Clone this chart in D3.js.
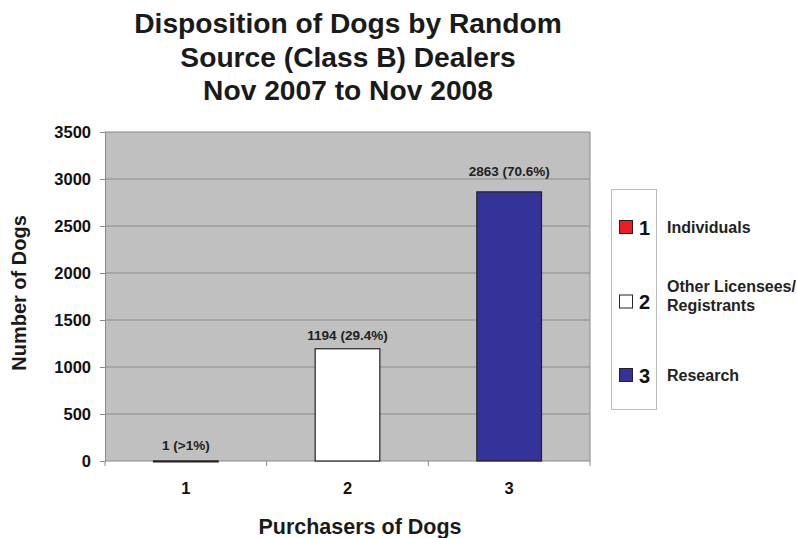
<!DOCTYPE html>
<html><head><meta charset="utf-8">
<script src="https://cdn.jsdelivr.net/npm/d3@7"></script>
<style>body{margin:0;background:#fff}svg{display:block;font-family:Arial,"Liberation Sans",sans-serif}</style>
</head><body><svg id="c" width="797" height="538"></svg>
<script>
const categories = ["1","2","3"];
const values = [1, 1194, 2863];
const valueLabels = ["1 (>1%)", "1194 (29.4%)", "2863 (70.6%)"];
const colors = ["#ee1c25", "#ffffff", "#333399"];
const legendNames = [["Individuals"], ["Other Licensees/", "Registrants"], ["Research"]];
const yTicks = [0, 500, 1000, 1500, 2000, 2500, 3000, 3500];
const titleLines = ["Disposition of Dogs by Random", "Source (Class B) Dealers", "Nov 2007 to Nov 2008"];

const svg = d3.select("#c");
const L = 105, R = 590, T = 132, B = 461;
const x = d3.scaleBand().domain(categories).range([L, R]).paddingInner(0).paddingOuter(0);
const y = d3.scaleLinear().domain([0, 3500]).range([B, T]);

// plot background
svg.append("rect").attr("x", L).attr("y", T).attr("width", R - L).attr("height", B - T).attr("fill", "#c0c0c0");
// gridlines
svg.append("g").selectAll("line").data(yTicks.filter(d => d > 0)).join("line")
  .attr("x1", L).attr("x2", R).attr("y1", d => y(d)).attr("y2", d => y(d))
  .attr("stroke", "#8a8a8a").attr("stroke-width", 1);
// right border
svg.append("line").attr("x1", R).attr("x2", R).attr("y1", T).attr("y2", B).attr("stroke", "#8a8a8a");

// y axis
const yAxis = d3.axisLeft(y).tickValues(yTicks).tickSize(5).tickPadding(9).tickFormat(d3.format("d"));
const gy = svg.append("g").attr("transform", `translate(${L},0)`).call(yAxis);
gy.select(".domain").attr("stroke", "#8a8a8a");
gy.selectAll(".tick line").attr("stroke", "#8a8a8a");
gy.selectAll("text").attr("font-size", 16.5).attr("font-weight", "bold").attr("fill", "#111").attr("font-family", "Arial, Liberation Sans, sans-serif");

// x axis
const xTickPos = [L, ...categories.map(c => x(c) + x.bandwidth())];
const gx = svg.append("g");
gx.append("line").attr("x1", L).attr("x2", R).attr("y1", B).attr("y2", B).attr("stroke", "#8a8a8a");
gx.selectAll(".tk").data(xTickPos).join("line").attr("class", "tk")
  .attr("x1", d => d).attr("x2", d => d).attr("y1", B).attr("y2", B + 5).attr("stroke", "#8a8a8a");
gx.selectAll("text").data(categories).join("text")
  .attr("x", d => x(d) + x.bandwidth() / 2).attr("y", 494).attr("text-anchor", "middle")
  .attr("font-size", 16.5).attr("font-weight", "bold").attr("fill", "#111").text(d => d);

// bars
const bw = x.bandwidth() * 0.4;
svg.append("g").selectAll("rect").data(categories).join("rect")
  .attr("x", (d) => x(d) + (x.bandwidth() - bw) / 2)
  .attr("y", (d, i) => y(values[i]))
  .attr("width", bw)
  .attr("height", (d, i) => Math.max(1, B - y(values[i])))
  .attr("fill", (d, i) => colors[i])
  .attr("stroke", "#222").attr("stroke-width", 1.2);

// value labels
const labelDy = [11, 9, 16];
svg.append("g").selectAll("text").data(categories).join("text")
  .attr("x", d => x(d) + x.bandwidth() / 2)
  .attr("y", (d, i) => y(values[i]) - labelDy[i])
  .attr("text-anchor", "middle").attr("font-size", 13.5).attr("font-weight", "bold").attr("fill", "#222")
  .text((d, i) => valueLabels[i]);

// title
svg.append("text").attr("x", 348).attr("y", 33).attr("text-anchor", "middle")
  .attr("font-size", 28.2).attr("font-weight", "bold").attr("fill", "#1a1a1a")
  .selectAll("tspan").data(titleLines).join("tspan")
  .attr("x", 348).attr("dy", (d, i) => i === 0 ? 0 : 33.5).text(d => d);

// axis titles
svg.append("text").attr("x", 360).attr("y", 534).attr("text-anchor", "middle")
  .attr("font-size", 21.5).attr("font-weight", "bold").attr("fill", "#1a1a1a").text("Purchasers of Dogs");
svg.append("text").attr("transform", "translate(26,293) rotate(-90)").attr("text-anchor", "middle")
  .attr("font-size", 20).attr("font-weight", "bold").attr("fill", "#1a1a1a").text("Number of Dogs");

// legend
const lg = svg.append("g");
lg.append("rect").attr("x", 611.5).attr("y", 189.5).attr("width", 45).attr("height", 220)
  .attr("fill", "#fff").attr("stroke", "#bbb");
const itemY = [227, 301.5, 375];
const items = lg.selectAll(".it").data(categories).join("g").attr("class", "it")
  .attr("transform", (d, i) => `translate(0,${itemY[i]})`);
items.append("rect").attr("x", 619.5).attr("y", -6.5).attr("width", 13).attr("height", 13)
  .attr("fill", (d, i) => colors[i]).attr("stroke", "#222").attr("stroke-width", 1);
items.append("text").attr("x", 639).attr("y", 7.5).attr("font-size", 20).attr("font-weight", "bold")
  .attr("fill", "#111").text(d => d);
items.each(function(d, i) {
  const lines = legendNames[i];
  const t = d3.select(this).append("text").attr("x", 667).attr("font-size", 16).attr("font-weight", "bold").attr("fill", "#222");
  const off = lines.length === 1 ? 6 : -9.5;
  t.selectAll("tspan").data(lines).join("tspan").attr("x", 667)
    .attr("y", (l, j) => off + j * 18.5).text(l => l);
});
</script></body></html>
